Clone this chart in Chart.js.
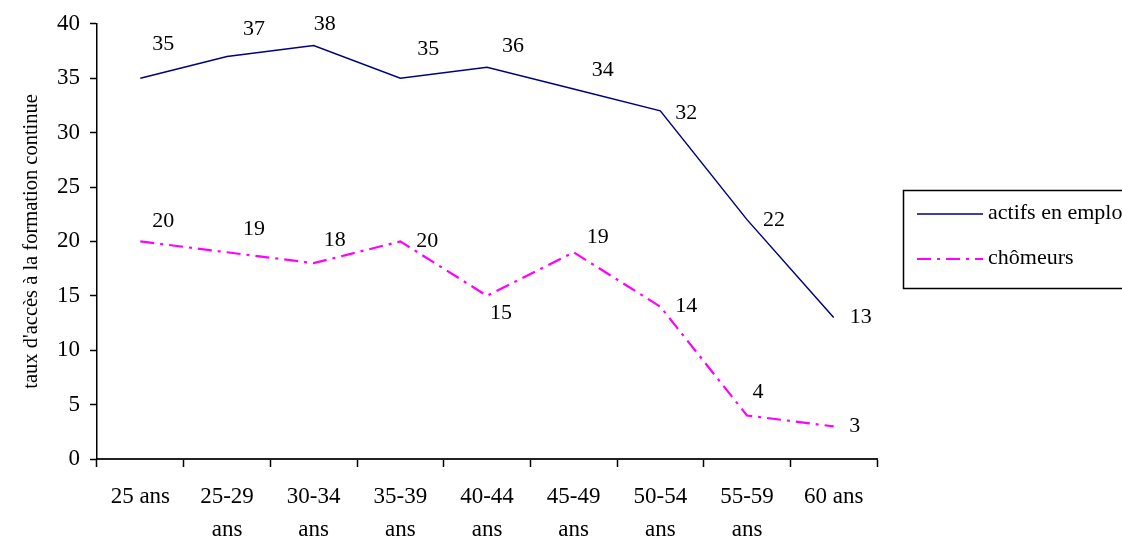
<!DOCTYPE html>
<html>
<head>
<meta charset="utf-8">
<script src="https://cdn.jsdelivr.net/npm/chart.js@4.4.0/dist/chart.umd.min.js"></script>
<style>
  html, body { margin: 0; padding: 0; background: #fff; }
  #wrap { position: relative; width: 1122px; height: 538px; }
</style>
</head>
<body>
<div id="wrap"><canvas id="c" width="1122" height="538"></canvas></div>
<script>
// categories and series
const categories = ['25 ans', ['25-29', 'ans'], ['30-34', 'ans'], ['35-39', 'ans'], ['40-44', 'ans'],
  ['45-49', 'ans'], ['50-54', 'ans'], ['55-59', 'ans'], '60 ans'];
const actifs = [35, 37, 38, 35, 36, 34, 32, 22, 13];
const chomeurs = [20, 19, 18, 20, 15, 19, 14, 4, 3];
const yTicks = [0, 5, 10, 15, 20, 25, 30, 35, 40];

// label offsets (px from point), like the Excel placement
const actifsLabelOffsets = [[23, -34], [27, -27], [11, -21], [28, -29], [26, -21], [29, -19], [26, 2], [27, 1], [27, 0]];
const chomeursLabelOffsets = [[23, -20], [27, -23], [21, -23], [27, 0], [14, 17], [24, -15], [26, 0], [11, -23], [21, 0]];

const FONT = "'Liberation Serif', 'Times New Roman', serif";

const valueLabels = {
  id: 'valueLabels',
  afterDatasetsDraw(chart) {
    const ctx = chart.ctx;
    ctx.save();
    ctx.font = '22px ' + FONT;
    ctx.fillStyle = '#000';
    ctx.textAlign = 'center';
    ctx.textBaseline = 'middle';
    chart.data.datasets.forEach((ds, di) => {
      const meta = chart.getDatasetMeta(di);
      meta.data.forEach((pt, i) => {
        const off = ds.labelOffsets[i];
        ctx.fillText(String(ds.data[i]), pt.x + off[0], pt.y + off[1]);
      });
    });
    ctx.restore();
  }
};

const boxLegend = {
  id: 'boxLegend',
  afterDraw(chart) {
    const ctx = chart.ctx;
    ctx.save();
    ctx.strokeStyle = '#000';
    ctx.lineWidth = 1.5;
    ctx.strokeRect(903.5, 190.5, 240, 98);
    ctx.font = '22px ' + FONT;
    ctx.textBaseline = 'middle';
    ctx.textAlign = 'left';
    const rows = [214, 259];
    chart.data.datasets.forEach((ds, i) => {
      ctx.beginPath();
      ctx.strokeStyle = ds.borderColor;
      ctx.lineWidth = ds.borderWidth;
      ctx.setLineDash(ds.borderDash || []);
      ctx.moveTo(917, rows[i]);
      ctx.lineTo(983, rows[i]);
      ctx.stroke();
      ctx.setLineDash([]);
      ctx.fillStyle = '#000';
      ctx.fillText(ds.label, 988, rows[i] - 1);
    });
    ctx.restore();
  }
};

new Chart(document.getElementById('c'), {
  type: 'line',
  data: {
    labels: categories,
    datasets: [
      {
        label: 'actifs en emploi',
        data: actifs,
        borderColor: '#000080',
        borderWidth: 1.5,
        pointRadius: 0,
        tension: 0,
        labelOffsets: actifsLabelOffsets
      },
      {
        label: 'chômeurs',
        data: chomeurs,
        borderColor: '#FF00FF',
        borderWidth: 2.2,
        borderDash: [14, 6, 3, 6],
        pointRadius: 0,
        tension: 0,
        labelOffsets: chomeursLabelOffsets
      }
    ]
  },
  options: {
    responsive: false,
    animation: false,
    layout: { padding: { top: 22, right: 245, bottom: 0, left: 0 } },
    plugins: { legend: { display: false }, tooltip: { enabled: false } },
    scales: {
      x: {
        offset: true,
        grid: { display: true, drawOnChartArea: false, offset: true, tickLength: 8, color: '#000', tickWidth: 1.5 },
        border: { color: '#222', width: 2 },
        ticks: { color: '#000', font: { family: FONT, size: 23, lineHeight: 1.43 }, padding: 14, maxRotation: 0, autoSkip: false },
        afterFit(s) { s.height = 79; }
      },
      y: {
        min: 0, max: 40,
        afterBuildTicks(s) { s.ticks = yTicks.map(v => ({ value: v })); },
        grid: { display: true, drawOnChartArea: false, tickLength: 7, color: '#000', tickWidth: 1.5 },
        border: { color: '#000', width: 1.5 },
        ticks: { color: '#000', font: { family: FONT, size: 23 }, padding: 10 },
        title: { display: true, text: "taux d'accès à la formation continue", color: '#000', font: { family: FONT, size: 20.5 }, padding: { top: 19, bottom: 0 } },
        afterFit(s) { s.width = 97; }
      }
    }
  },
  plugins: [valueLabels, boxLegend]
});
</script>
</body>
</html>
